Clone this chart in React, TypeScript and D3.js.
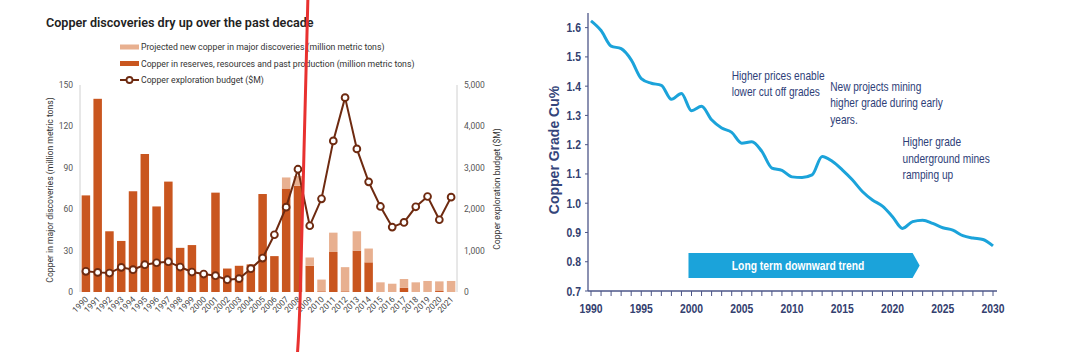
import { useEffect, useRef } from "react";
import * as d3 from "d3";

// left chart: copper discoveries
const years = ["1990","1991","1992","1993","1994","1995","1996","1997","1998","1999","2000","2001","2002","2003","2004","2005","2006","2007","2008","2009","2010","2011","2012","2013","2014","2015","2016","2017","2018","2019","2020","2021"];
const reserves = [70,140,44,37,73,100,62,80,32,34,13,72,17,19,20,71,26,75,77,19,0.5,29,0.5,30,21.5,0,0,3,0,0,0.7,0];
const projected = [0,0,0,0,0,0,0,0,0,0,0,0,0,0,0,0,0,8,7,6,8.5,14,17.5,14,10,7,6,6.4,7,8,7,8];
const budget = [500,474,458,595,539,659,707,732,603,482,434,394,297,322,563,820,1383,2050,2966,1600,2251,3650,4695,3457,2661,2066,1568,1680,2058,2307,1745,2291];
const leftTicks = [0,30,60,90,120,150];
const rightTicks = [0,1000,2000,3000,4000,5000];
const legendItems = [
  "Projected new copper in major discoveries (million metric tons)",
  "Copper in reserves, resources and past production (million metric tons)",
  "Copper exploration budget ($M)",
];

// right chart: copper grade
const gradeYears = [1990,1991,1992,1993,1994,1995,1996,1997,1998,1999,2000,2001,2002,2003,2004,2005,2006,2007,2008,2009,2010,2011,2012,2013,2014,2015,2016,2017,2018,2019,2020,2021,2022,2023,2024,2025,2026,2027,2028,2029,2030];
const grade = [1.623,1.59,1.537,1.528,1.49,1.426,1.41,1.403,1.355,1.375,1.316,1.331,1.285,1.257,1.242,1.205,1.21,1.177,1.12,1.112,1.09,1.088,1.097,1.16,1.143,1.114,1.08,1.04,1.011,0.99,0.954,0.914,0.937,0.942,0.931,0.916,0.908,0.889,0.881,0.876,0.854];
const gradeTicks = [0.7,0.8,0.9,1.0,1.1,1.2,1.3,1.4,1.5,1.6];
const gradeYearLabels = [1990,1995,2000,2005,2010,2015,2020,2025,2030];
const notes = [
  { year: 2004, value: 1.422, lines: ["Higher prices enable", "lower cut off grades"] },
  { year: 2013.8, value: 1.385, lines: ["New projects mining", "higher grade during early", "years."] },
  { year: 2021, value: 1.195, lines: ["Higher grade", "underground mines", "ramping up"] },
];

const DARK = "#c9561f";
const LIGHT = "#e8b090";
const LINE = "#6e2a10";
const BLUE = "#1ba3da";
const NAVY = "#33406f";
const SANS = "'Liberation Sans', Arial, sans-serif";
const SQUEEZE = 0.83; // fake a condensed face, none installed

export default function App() {
  const ref = useRef<SVGSVGElement>(null);

  useEffect(() => {
    const svg = d3.select(ref.current);
    svg.selectAll("*").remove();
    drawLeft(svg);
    drawRight(svg);
    return () => {
      svg.selectAll("*").remove();
    };
  }, []);

  const drawLeft = (svg: any) => {
    const g = svg.append("g").style("font-family", "Roboto, sans-serif");
    const x = d3.scaleBand().domain(years).range([80, 457]).paddingInner(0.28).paddingOuter(0.14);
    const y = d3.scaleLinear().domain([0, 150]).range([292, 85]);
    const y2 = d3.scaleLinear().domain([0, 5000]).range([292, 85]);

    g.append("text").attr("x", 46).attr("y", 27).text("Copper discoveries dry up over the past decade")
      .style("font-size", "12.6px").style("font-weight", 600).style("fill", "#222");

    // legend
    legendItems.forEach((label, i) => {
      const ly = 47 + i * 16.5;
      if (i < 2) {
        g.append("rect").attr("x", 120).attr("y", ly - 2.5).attr("width", 19).attr("height", 5)
          .style("fill", i === 0 ? LIGHT : DARK);
      } else {
        g.append("line").attr("x1", 120).attr("x2", 139).attr("y1", ly).attr("y2", ly)
          .style("stroke", LINE).style("stroke-width", 2);
        g.append("circle").attr("cx", 129.5).attr("cy", ly).attr("r", 3)
          .style("fill", "#fff").style("stroke", LINE).style("stroke-width", 1.8);
      }
      g.append("text").attr("x", 141).attr("y", ly).attr("dy", "0.35em").text(label)
        .style("font-size", "8.7px").style("fill", "#333");
    });

    // axis lines
    g.append("line").attr("x1", 80).attr("x2", 80).attr("y1", 85).attr("y2", 292).style("stroke", "#d0d0d0");
    g.append("line").attr("x1", 457).attr("x2", 457).attr("y1", 85).attr("y2", 292).style("stroke", "#d0d0d0");

    leftTicks.forEach((t) => {
      g.append("text").attr("x", 73).attr("y", y(t)).attr("dy", "0.35em").attr("text-anchor", "end")
        .text(d3.format(",")(t)).style("font-size", "8.5px").style("fill", "#555");
    });
    rightTicks.forEach((t) => {
      g.append("text").attr("x", 464).attr("y", y2(t)).attr("dy", "0.35em")
        .text(d3.format(",")(t)).style("font-size", "8.5px").style("fill", "#555");
    });

    g.append("text").attr("transform", `translate(53,190) rotate(-90)`).attr("text-anchor", "middle")
      .text("Copper in major discoveries (million metric tons)").style("font-size", "8.6px").style("fill", "#333");
    g.append("text").attr("transform", `translate(500,189) rotate(-90)`).attr("text-anchor", "middle")
      .text("Copper exploration budget ($M)").style("font-size", "8.6px").style("fill", "#333");

    // stacked bars
    g.selectAll(".res").data(years).enter().append("rect")
      .attr("x", (d: string) => x(d))
      .attr("width", x.bandwidth())
      .attr("y", (_: string, i: number) => y(reserves[i]))
      .attr("height", (_: string, i: number) => y(0) - y(reserves[i]))
      .style("fill", DARK);
    g.selectAll(".proj").data(years).enter().append("rect")
      .attr("x", (d: string) => x(d))
      .attr("width", x.bandwidth())
      .attr("y", (_: string, i: number) => y(reserves[i] + projected[i]))
      .attr("height", (_: string, i: number) => y(reserves[i]) - y(reserves[i] + projected[i]))
      .style("fill", LIGHT);

    // budget line
    const cx = (d: string) => (x(d) as number) + x.bandwidth() / 2;
    const line = d3.line<string>().x(cx).y((_, i) => y2(budget[i]));
    g.append("path").attr("d", line(years)).style("fill", "none").style("stroke", LINE).style("stroke-width", 2);
    g.selectAll(".dot").data(years).enter().append("circle")
      .attr("cx", cx).attr("cy", (_: string, i: number) => y2(budget[i])).attr("r", 3.4)
      .style("fill", "#fff").style("stroke", LINE).style("stroke-width", 1.9);

    // x labels
    years.forEach((yr) => {
      g.append("text").attr("transform", `translate(${cx(yr) + 3},${300}) rotate(-45)`)
        .attr("text-anchor", "end").text(yr).style("font-size", "8.3px").style("fill", "#444");
    });

    // hand-drawn red marker
    const rx = cx("2008");
    const red = d3.line().curve(d3.curveBasis);
    g.append("path").attr("d", red([[rx + 10, -4], [rx + 6, 150], [rx + 2, 320], [rx - 1, 360]]))
      .style("fill", "none").style("stroke", "#e8312f").style("stroke-width", 3);
  };

  const drawRight = (svg: any) => {
    const g = svg.append("g").style("font-family", SANS);
    const x = d3.scaleLinear().domain([1990, 2030]).range([591, 993]);
    const y = d3.scaleLinear().domain([0.7, 1.65]).range([291, 13]);

    const narrow = (px: number, py: number) =>
      g.append("text").attr("transform", `translate(${px},${py}) scale(${SQUEEZE},1)`);

    // banner arrow
    const bx0 = x(1999.7), bx1 = x(2022), bx2 = x(2022.7);
    const by0 = y(0.83), by1 = y(0.744);
    g.append("path").attr("d", `M${bx0},${by0}L${bx1},${by0}L${bx2},${(by0 + by1) / 2}L${bx1},${by1}L${bx0},${by1}Z`)
      .style("fill", BLUE);
    narrow(x(2010.6), (by0 + by1) / 2).attr("dy", "0.36em").attr("text-anchor", "middle")
      .text("Long term downward trend").style("fill", "#fff").style("font-size", "12.4px").style("font-weight", 700);

    // axes
    g.append("line").attr("x1", 588).attr("x2", 588).attr("y1", 13).attr("y2", 291).style("stroke", "#4d5688").style("stroke-width", 1.3);
    g.append("line").attr("x1", 588).attr("x2", 997).attr("y1", 291).attr("y2", 291).style("stroke", "#4d5688").style("stroke-width", 1.3);
    gradeTicks.forEach((t) => {
      g.append("line").attr("x1", 585).attr("x2", 588).attr("y1", y(t)).attr("y2", y(t)).style("stroke", "#4d5688");
      narrow(581, y(t)).attr("dy", "0.36em").attr("text-anchor", "end")
        .text(t.toFixed(1)).style("font-size", "12.5px").style("font-weight", 700).style("fill", NAVY);
    });
    gradeYears.forEach((yr) => {
      g.append("line").attr("x1", x(yr)).attr("x2", x(yr)).attr("y1", 291).attr("y2", 296).style("stroke", "#4d5688");
    });
    gradeYearLabels.forEach((yr) => {
      narrow(x(yr), 313).attr("text-anchor", "middle")
        .text(yr).style("font-size", "12.5px").style("font-weight", 700).style("fill", NAVY);
    });
    g.append("text").attr("transform", `translate(559,150) rotate(-90)`).attr("text-anchor", "middle")
      .text("Copper Grade Cu%").style("font-size", "14px").style("font-weight", 700).style("fill", "#34457a");

    // grade line
    const line = d3.line<number>().x((d) => x(d)).y((_, i) => y(grade[i])).curve(d3.curveMonotoneX);
    g.append("path").attr("d", line(gradeYears)).style("fill", "none").style("stroke", BLUE).style("stroke-width", 3);

    // annotations
    notes.forEach((n) => {
      const t = narrow(x(n.year), y(n.value)).style("font-size", "12.2px").style("fill", "#2e3e78");
      n.lines.forEach((l, i) => {
        t.append("tspan").attr("x", 0).attr("dy", i === 0 ? 0 : 16.5).text(l);
      });
    });
  };

  return (
    <svg ref={ref} width={1080} height={352}
      style={{ position: "absolute", left: 0, top: 0, background: "#fff" }} />
  );
}
